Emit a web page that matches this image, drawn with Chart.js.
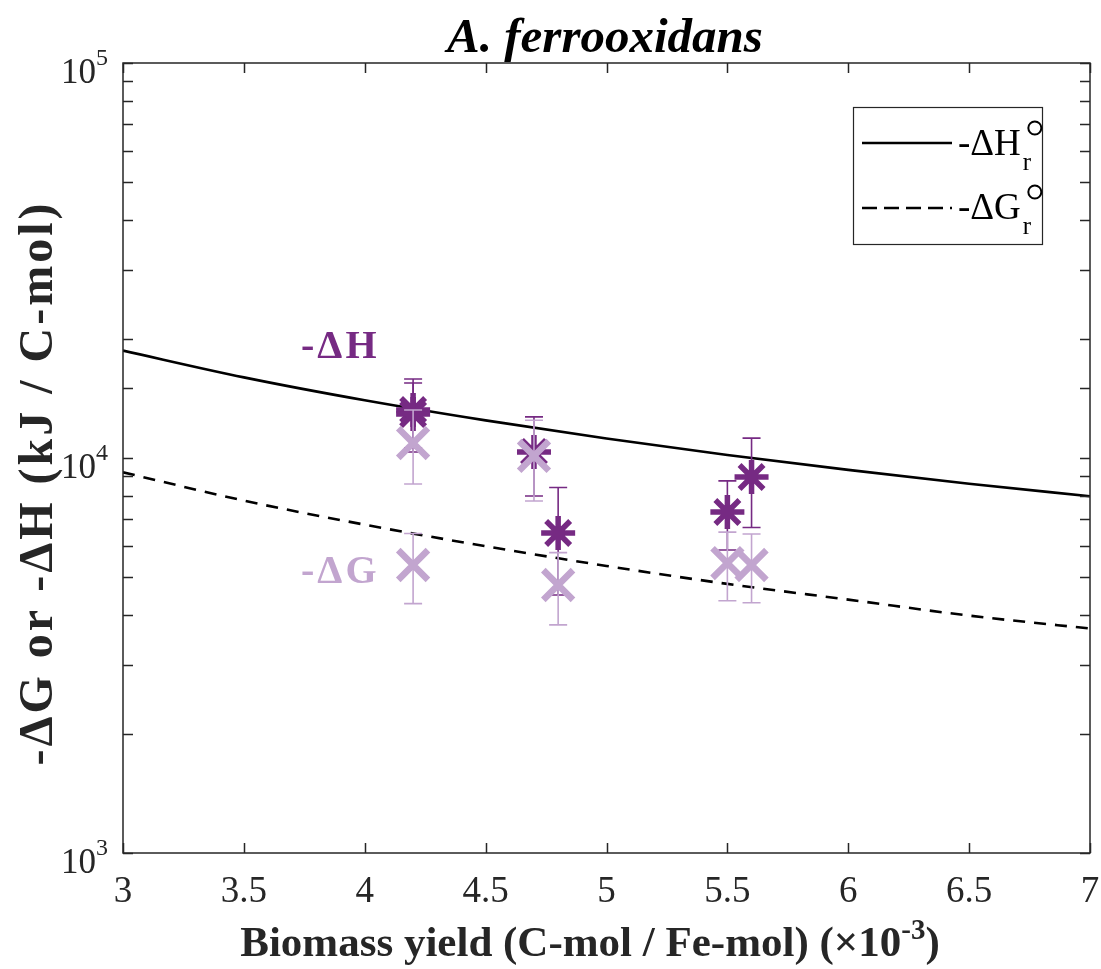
<!DOCTYPE html>
<html>
<head>
<meta charset="utf-8">
<script src="https://cdn.jsdelivr.net/npm/chart.js@4"></script>
<style>
html, body { margin: 0; padding: 0; background: #fff; overflow: hidden; }
#wrap { width: 1101px; height: 969px; }
#chart { display: block; }
</style>
</head>
<body>
<div id="wrap"><canvas id="chart" width="1101" height="969"></canvas></div>
<script>
// 坐标轴刻度
const xTicks = [3, 3.5, 4, 4.5, 5, 5.5, 6, 6.5, 7];
const xTickLabels = ['3', '3.5', '4', '4.5', '5', '5.5', '6', '6.5', '7'];
const yMajor = [1000, 10000, 100000];
const yExponents = ['3', '4', '5'];

// 参考曲线 (按刻度位置读取)
const curveX = [3, 3.5, 4, 4.5, 5, 5.5, 6, 6.5, 7];
const dHr = [18700, 16000, 14000, 12450, 11200, 10180, 9330, 8610, 8000];
const dGr = [9200, 7800, 6780, 5980, 5330, 4800, 4380, 3990, 3700];

// 实测点及误差
const hX = [4.2, 4.2, 4.7, 4.8, 5.5, 5.6];
const hY = [13230, 12920, 10360, 6460, 7300, 8950];
const hErr = [2620, 2560, 2350, 1960, 1450, 2280];
const gX = [4.2, 4.2, 4.7, 4.8, 5.5, 5.6];
const gY = [10910, 5360, 10120, 4770, 5420, 5360];
const gErr = [2320, 1080, 2340, 990, 1070, 1060];

const darkPurple = '#762a83';
const lightPurple = '#c2a5cf';
const axisColor = '#262626';
const serif = '"Liberation Serif", "DejaVu Serif", serif';

function toPoints(xs, ys) {
    return xs.map((x, i) => ({ x: x, y: ys[i] }));
}

// 误差棒
const errorBars = {
    id: 'errorBars',
    beforeDatasetDraw(chart, args) {
        const ds = chart.data.datasets[args.index];
        if (!ds.errors) return;
        const ctx = chart.ctx;
        const xs = chart.scales.x, ys = chart.scales.y;
        ctx.save();
        ctx.strokeStyle = ds.borderColor;
        ctx.lineWidth = 1.6;
        ds.data.forEach((p, i) => {
            const px = xs.getPixelForValue(p.x);
            const top = ys.getPixelForValue(p.y + ds.errors[i]);
            const bot = ys.getPixelForValue(p.y - ds.errors[i]);
            ctx.beginPath();
            ctx.moveTo(px, top); ctx.lineTo(px, bot);
            ctx.moveTo(px - 9, top); ctx.lineTo(px + 9, top);
            ctx.moveTo(px - 9, bot); ctx.lineTo(px + 9, bot);
            ctx.stroke();
        });
        ctx.restore();
    }
};

// 文本片段绘制 (上标/下标)
function drawParts(ctx, parts, x, y, align) {
    let total = 0;
    parts.forEach(p => { ctx.font = p.font; total += ctx.measureText(p.t).width; });
    let cx = align === 'center' ? x - total / 2 : (align === 'right' ? x - total : x);
    parts.forEach(p => {
        ctx.font = p.font;
        ctx.fillText(p.t, cx, y + (p.dy || 0));
        cx += ctx.measureText(p.t).width;
    });
}

// 坐标框、刻度、标签、图例
const decorations = {
    id: 'decorations',
    afterDraw(chart) {
        const ctx = chart.ctx;
        const a = chart.chartArea;
        const xs = chart.scales.x, ys = chart.scales.y;
        ctx.save();
        ctx.strokeStyle = axisColor;
        ctx.fillStyle = axisColor;
        ctx.lineWidth = 1.5;
        ctx.strokeRect(a.left, a.top, a.right - a.left, a.bottom - a.top);

        ctx.beginPath();
        xTicks.forEach(t => {
            const px = Math.round(xs.getPixelForValue(t)) + 0.5;
            ctx.moveTo(px, a.bottom); ctx.lineTo(px, a.bottom - 10);
            ctx.moveTo(px, a.top); ctx.lineTo(px, a.top + 10);
        });
        ys.ticks.forEach(t => {
            if (t.value < 1000 || t.value > 100000) return;
            const py = Math.round(ys.getPixelForValue(t.value)) + 0.5;
            ctx.moveTo(a.left, py); ctx.lineTo(a.left + 10, py);
            ctx.moveTo(a.right, py); ctx.lineTo(a.right - 10, py);
        });
        ctx.stroke();

        ctx.textBaseline = 'alphabetic';
        ctx.textAlign = 'center';
        ctx.font = '37px ' + serif;
        xTicks.forEach((t, i) => {
            ctx.fillText(xTickLabels[i], xs.getPixelForValue(t), 902);
        });

        ctx.textAlign = 'left';
        yMajor.forEach((v, i) => {
            const py = ys.getPixelForValue(v);
            drawParts(ctx, [
                { t: '10', font: '35px ' + serif, dy: 20 },
                { t: yExponents[i], font: '24px ' + serif, dy: 2 }
            ], 108, py, 'right');
        });

        // 标题
        ctx.fillStyle = '#000';
        ctx.font = 'bold italic 49px ' + serif;
        ctx.textAlign = 'center';
        ctx.fillText('A. ferrooxidans', 605, 52);

        // 轴标题
        ctx.fillStyle = axisColor;
        ctx.textAlign = 'left';
        drawParts(ctx, [
            { t: 'Biomass yield (C-mol / Fe-mol) (\u00d710', font: 'bold 43px ' + serif },
            { t: '-3', font: 'bold 29px ' + serif, dy: -17 },
            { t: ')', font: 'bold 43px ' + serif }
        ], 590, 956, 'center');

        ctx.save();
        ctx.translate(52, 483);
        ctx.rotate(-Math.PI / 2);
        ctx.font = 'bold 48px ' + serif;
        ctx.letterSpacing = '3px';
        ctx.textAlign = 'center';
        ctx.fillText('-\u0394G or -\u0394H (kJ / C-mol)', 0, 0);
        ctx.restore();

        // 曲线旁注
        ctx.textAlign = 'left';
        ctx.font = 'bold 40px ' + serif;
        ctx.letterSpacing = '3px';
        ctx.fillStyle = darkPurple;
        ctx.fillText('-\u0394H', 301, 358);
        ctx.fillStyle = lightPurple;
        ctx.fillText('-\u0394G', 301, 583);
        ctx.letterSpacing = '0px';

        // 图例
        ctx.fillStyle = '#fff';
        ctx.fillRect(853, 107, 189, 137);
        ctx.strokeStyle = axisColor;
        ctx.lineWidth = 1.2;
        ctx.strokeRect(853.5, 107.5, 189, 137);
        ctx.strokeStyle = '#000';
        ctx.lineWidth = 2.5;
        ctx.beginPath();
        ctx.moveTo(862, 143); ctx.lineTo(952, 143);
        ctx.stroke();
        ctx.setLineDash([15, 7]);
        ctx.beginPath();
        ctx.moveTo(862, 208); ctx.lineTo(952, 208);
        ctx.stroke();
        ctx.setLineDash([]);

        ctx.fillStyle = '#000';
        [['H', 155], ['G', 219]].forEach(([s, base]) => {
            ctx.font = '37px ' + serif;
            ctx.fillText('-\u0394' + s, 958, base);
            const w = ctx.measureText('-\u0394' + s).width;
            ctx.font = '25px ' + serif;
            ctx.fillText('r', 960 + w, base + 15);
            ctx.lineWidth = 2;
            ctx.beginPath();
            ctx.arc(958 + w + 14, base - 27, 6.5, 0, Math.PI * 2);
            ctx.stroke();
        });
        ctx.restore();
    }
};

new Chart(document.getElementById('chart'), {
    type: 'scatter',
    data: {
        datasets: [
            {
                label: '-\u0394Hr',
                data: toPoints(curveX, dHr),
                showLine: true,
                borderColor: '#000',
                borderWidth: 2.6,
                pointRadius: 0,
                cubicInterpolationMode: 'monotone',
                order: 4
            },
            {
                label: '-\u0394Gr',
                data: toPoints(curveX, dGr),
                showLine: true,
                borderColor: '#000',
                borderWidth: 2.6,
                borderDash: [12, 9],
                pointRadius: 0,
                cubicInterpolationMode: 'monotone',
                order: 3
            },
            {
                label: '-\u0394H',
                data: toPoints(hX, hY),
                errors: hErr,
                borderColor: darkPurple,
                backgroundColor: darkPurple,
                pointStyle: 'star',
                pointRadius: 17,
                pointBorderWidth: 5.5,
                order: 2
            },
            {
                label: '-\u0394G',
                data: toPoints(gX, gY),
                errors: gErr,
                borderColor: lightPurple,
                backgroundColor: lightPurple,
                pointStyle: 'crossRot',
                pointRadius: 21,
                pointBorderWidth: 6.5,
                order: 1
            }
        ]
    },
    options: {
        responsive: false,
        animation: false,
        devicePixelRatio: 1,
        layout: {
            autoPadding: false,
            padding: { left: 123, right: 11, top: 63, bottom: 116 }
        },
        plugins: {
            legend: { display: false },
            tooltip: { enabled: false }
        },
        scales: {
            x: { type: 'linear', min: 3, max: 7, display: false },
            y: { type: 'logarithmic', min: 1000, max: 100000, display: false }
        }
    },
    plugins: [errorBars, decorations]
});
</script>
</body>
</html>
